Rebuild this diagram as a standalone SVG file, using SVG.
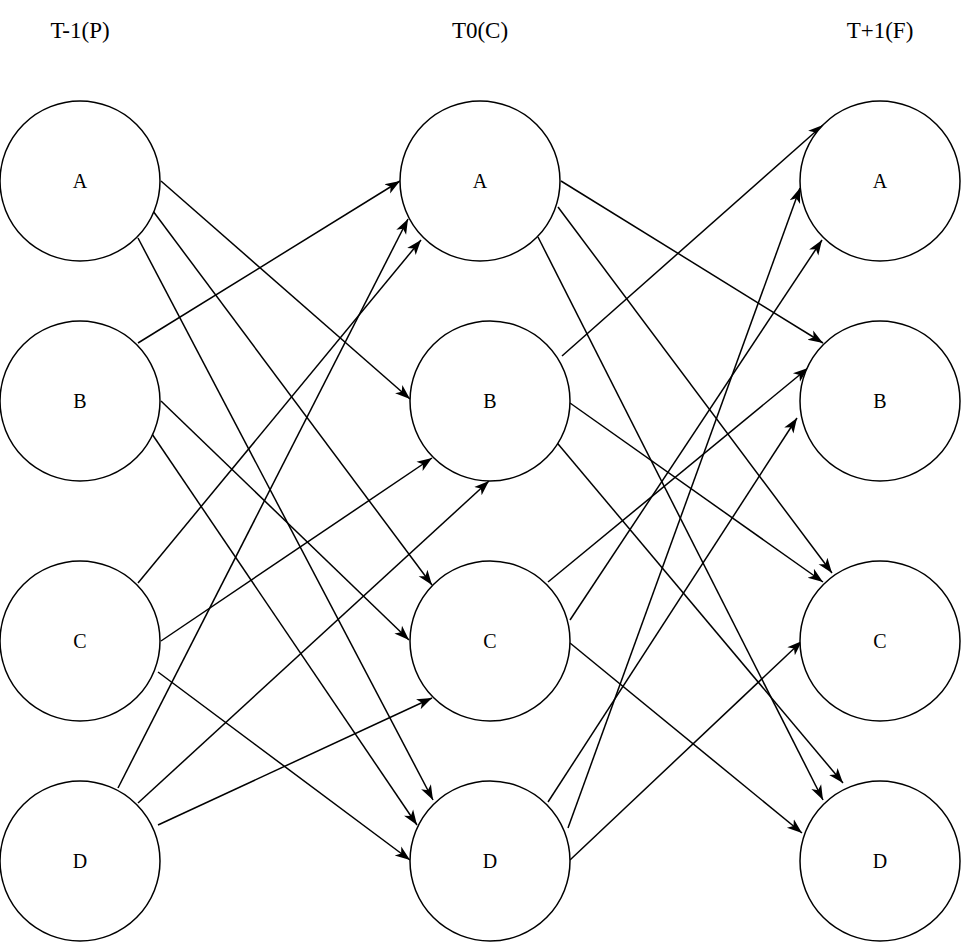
<svg xmlns="http://www.w3.org/2000/svg" width="962" height="942" viewBox="0 0 962 942">
<style>
.n{fill:#fff;stroke:#000;stroke-width:1.5}
.t{font-family:"Liberation Serif","Times New Roman",serif;font-size:20px;fill:#000;text-anchor:middle;dominant-baseline:central}
.h{font-size:23px}
.e{stroke:#000;stroke-width:1.5;fill:none;marker-end:url(#ar)}
</style>
<defs>
<marker id="ar" markerUnits="userSpaceOnUse" markerWidth="16" markerHeight="14" viewBox="0 0 16 14" refX="15" refY="7" orient="auto">
<path d="M0,1.5 L15,7 L0,12.5 L4,7 Z" fill="#000"/>
</marker>
</defs>
<rect width="962" height="942" fill="#fff"/>
<g id="headers">
<text class="t h" x="80" y="30">T-1(P)</text>
<text class="t h" x="480" y="30">T0(C)</text>
<text class="t h" x="880" y="30">T+1(F)</text>
</g>
<g id="edges">
<line class="e" x1="161" y1="181" x2="410" y2="399"/>
<line class="e" x1="153" y1="211" x2="432" y2="585"/>
<line class="e" x1="138" y1="238" x2="433" y2="800"/>
<line class="e" x1="138" y1="343" x2="400" y2="181"/>
<line class="e" x1="161" y1="401" x2="409" y2="640"/>
<line class="e" x1="150" y1="431" x2="417" y2="825"/>
<line class="e" x1="138" y1="583" x2="421" y2="240"/>
<line class="e" x1="161" y1="641" x2="432" y2="458"/>
<line class="e" x1="158" y1="672" x2="410" y2="860"/>
<line class="e" x1="118" y1="788" x2="408" y2="219"/>
<line class="e" x1="138" y1="803" x2="489" y2="481"/>
<line class="e" x1="158" y1="825" x2="432" y2="698"/>
<line class="e" x1="561" y1="181" x2="823" y2="343"/>
<line class="e" x1="558" y1="207" x2="832" y2="573"/>
<line class="e" x1="538" y1="237" x2="823" y2="800"/>
<line class="e" x1="562" y1="356" x2="823" y2="125"/>
<line class="e" x1="570" y1="403" x2="823" y2="582"/>
<line class="e" x1="548" y1="432" x2="843" y2="783"/>
<line class="e" x1="570" y1="620" x2="822" y2="240"/>
<line class="e" x1="548" y1="582" x2="808" y2="368"/>
<line class="e" x1="570" y1="643" x2="802" y2="833"/>
<line class="e" x1="568" y1="828" x2="800" y2="188"/>
<line class="e" x1="548" y1="802" x2="797" y2="418"/>
<line class="e" x1="570" y1="860" x2="802" y2="641"/>
</g>
<g id="L_A"><circle class="n" cx="80" cy="181" r="80"/><text class="t" x="80" y="181">A</text></g>
<g id="L_B"><circle class="n" cx="80" cy="401" r="80"/><text class="t" x="80" y="401">B</text></g>
<g id="L_C"><circle class="n" cx="80" cy="641" r="80"/><text class="t" x="80" y="641">C</text></g>
<g id="L_D"><circle class="n" cx="80" cy="861" r="80"/><text class="t" x="80" y="861">D</text></g>
<g id="M_A"><circle class="n" cx="480" cy="181" r="80"/><text class="t" x="480" y="181">A</text></g>
<g id="M_B"><circle class="n" cx="490" cy="401" r="80"/><text class="t" x="490" y="401">B</text></g>
<g id="M_C"><circle class="n" cx="490" cy="641" r="80"/><text class="t" x="490" y="641">C</text></g>
<g id="M_D"><circle class="n" cx="490" cy="861" r="80"/><text class="t" x="490" y="861">D</text></g>
<g id="R_A"><circle class="n" cx="880" cy="181" r="80"/><text class="t" x="880" y="181">A</text></g>
<g id="R_B"><circle class="n" cx="880" cy="401" r="80"/><text class="t" x="880" y="401">B</text></g>
<g id="R_C"><circle class="n" cx="880" cy="641" r="80"/><text class="t" x="880" y="641">C</text></g>
<g id="R_D"><circle class="n" cx="880" cy="861" r="80"/><text class="t" x="880" y="861">D</text></g>
</svg>
